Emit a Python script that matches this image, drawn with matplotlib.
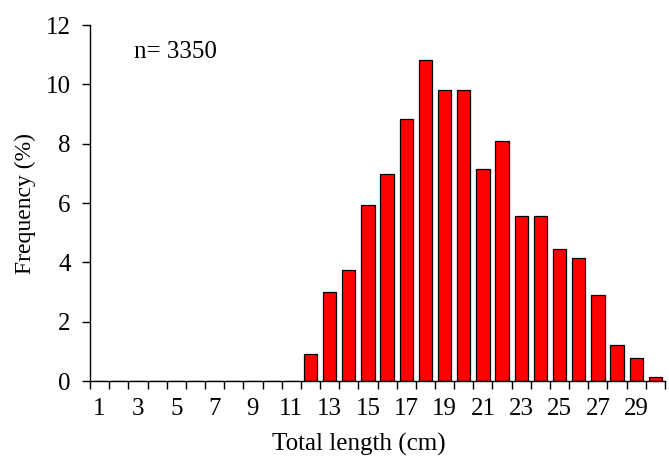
import matplotlib.pyplot as plt
import numpy as np

plt.rcParams['font.family'] = ['Liberation Serif', 'DejaVu Serif']

lengths = np.arange(1, 31)
frequency = [0, 0, 0, 0, 0, 0, 0, 0, 0, 0, 0,
             0.9, 3.01, 3.75, 5.94, 6.99, 8.83, 10.81, 9.81, 9.81,
             7.13, 8.09, 5.56, 5.56, 4.46, 4.16, 2.91, 1.22, 0.78, 0.15]
tick_labels = [str(v) for v in range(1, 30, 2)]


def main():
    fig = plt.figure(figsize=(6.69, 4.57), dpi=100)
    ax = fig.add_axes([90 / 669, 1 - 381 / 457, 575 / 669, 356 / 457])

    ax.bar(lengths, frequency, width=0.7, color='#ff0000',
           edgecolor='black', linewidth=0.9)

    ax.set_xlim(0.5, 30.5)
    ax.set_ylim(0, 12)
    ax.set_yticks(np.arange(0, 13, 2))
    ax.set_xticks(np.arange(1, 30, 2))
    ax.set_xticklabels(tick_labels)
    ax.set_xticks(np.arange(0.5, 30.6, 1), minor=True)
    ax.tick_params(axis='x', which='major', length=0, pad=12, labelsize=18)
    ax.tick_params(axis='x', which='minor', length=6, width=1)
    ax.tick_params(axis='y', length=6, width=1, labelsize=18, pad=8)

    for side in ('top', 'right'):
        ax.spines[side].set_visible(False)
    for side in ('left', 'bottom'):
        ax.spines[side].set_linewidth(1)

    ax.set_xlabel('Total length (cm)', fontsize=18)
    ax.xaxis.set_label_coords(0.467, -0.145)
    ax.set_ylabel('Frequency (%)', fontsize=17)
    ax.yaxis.set_label_coords(-0.094, 0.5)
    ax.text(2.8, 10.9, 'n= 3350', fontsize=18)

    fig.savefig('out.png', dpi=100)


if __name__ == "__main__":
    main()
